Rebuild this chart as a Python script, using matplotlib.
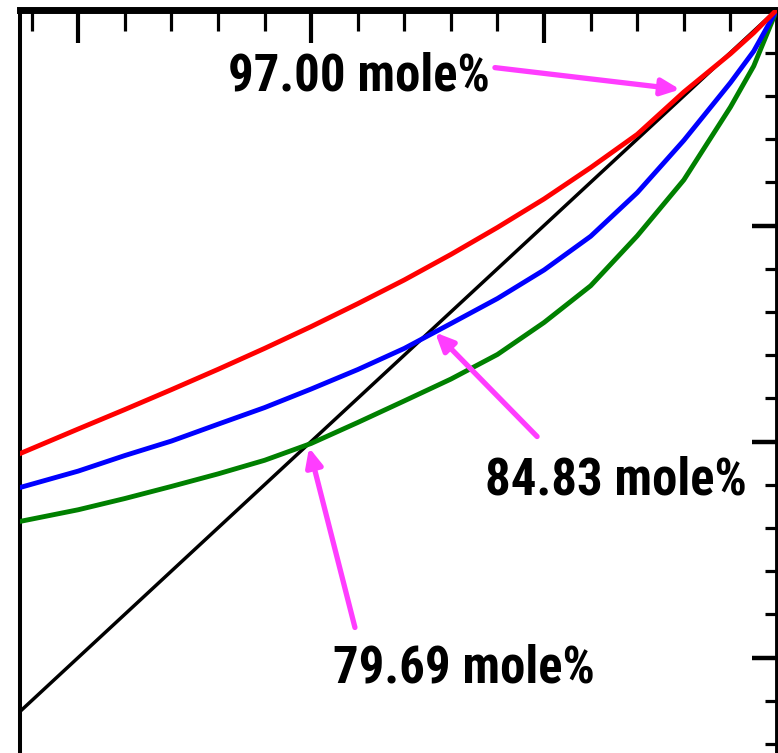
import matplotlib
matplotlib.use("Agg")
import matplotlib.pyplot as plt
from matplotlib import font_manager

# ---- data (mole fraction) ----
x_grid = [0.675, 0.70, 0.72, 0.74, 0.76, 0.78, 0.80, 0.82, 0.84, 0.86,
          0.88, 0.90, 0.92, 0.94, 0.96, 0.98, 0.99, 1.00]
y_red = [0.7944, 0.8058, 0.8148, 0.8240, 0.8334, 0.8431, 0.8532, 0.8638,
         0.8748, 0.8866, 0.8991, 0.9123, 0.9268, 0.9422, 0.9618, 0.9795,
         0.9892, 1.0]
y_blue = [0.7787, 0.7863, 0.7935, 0.8002, 0.8080, 0.8157, 0.8243, 0.8333,
          0.8431, 0.8546, 0.8662, 0.8794, 0.8950, 0.9152, 0.9394, 0.9661,
          0.9807, 1.0]
y_green = [0.7630, 0.7684, 0.7736, 0.7792, 0.7850, 0.7913, 0.7991, 0.8088,
           0.8188, 0.8289, 0.8403, 0.8551, 0.8721, 0.8952, 0.9211, 0.9548,
           0.9738, 1.0]
x_diag = [0.675, 1.0]
y_diag = [0.675, 1.0]

labels = ["97.00 mole%", "84.83 mole%", "79.69 mole%"]
label_xy = [(0.7643, 0.9625), (0.8746, 0.7755), (0.8094, 0.6885)]
arrow_tips = [(0.9584, 0.9630), (0.8532, 0.8505), (0.7991, 0.7972)]
arrow_tails = [(0.8789, 0.9731), (0.8970, 0.8023), (0.8188, 0.7139)]

# ---- fonts ----
names = {f.name for f in font_manager.fontManager.ttflist}
fam = None
for cand in ["Roboto Condensed", "Archivo Narrow", "PT Sans Narrow", "Liberation Sans Narrow"]:
    if cand in names:
        fam = cand
        break
txt_font = dict(family=[fam, "DejaVu Sans"] if fam else ["DejaVu Sans"], weight=600)

W, H = 778, 753
fig = plt.figure(figsize=(W / 100, H / 100), dpi=100)

xlim = (0.675, 1.0)
ylim = (0.64, 1.0)
left_px, right_px, top_px = 20, 777, 9.5
py_per_unit = 2160.0
height_px = (ylim[1] - ylim[0]) * py_per_unit
ax = fig.add_axes([left_px / W, 1 - (top_px + height_px) / H,
                   (right_px - left_px) / W, height_px / H])
ax.set_xlim(*xlim)
ax.set_ylim(*ylim)

ax.plot(x_diag, y_diag, color="black", lw=2.5, zorder=3)
ax.plot(x_grid, y_green, color="#008000", lw=3.5, zorder=4)
ax.plot(x_grid, y_blue, color="#0000ff", lw=3.5, zorder=4)
ax.plot(x_grid, y_red, color="#ff0000", lw=3.5, zorder=5)

mag = "#ff3dff"
for tip, tail in zip(arrow_tips, arrow_tails):
    ax.annotate("", xy=tip, xytext=tail, xycoords="data", textcoords="data",
                arrowprops=dict(arrowstyle="-|>,head_length=1.1,head_width=0.5",
                                color=mag, lw=3.8, shrinkA=0, shrinkB=0),
                zorder=6)
for s, (tx, ty) in zip(labels, label_xy):
    ax.text(tx, ty, s, fontsize=36.5, ha="left", va="baseline", color="black",
            zorder=7, **txt_font)

# spines
ax.spines["bottom"].set_visible(False)
ax.spines["top"].set_linewidth(5)
ax.spines["left"].set_linewidth(2.9)
ax.spines["right"].set_linewidth(3.5)

# ticks
ax.set_xticks([0.7, 0.8, 0.9])
ax.set_xticks([0.68 + 0.02 * i for i in range(16)], minor=True)
ax.set_yticks([0.7, 0.8, 0.9, 1.0])
ax.set_yticks([0.64 + 0.02 * i for i in range(19)], minor=True)
ax.tick_params(axis="x", which="both", direction="in", top=True, bottom=False,
               labeltop=False, labelbottom=False)
ax.tick_params(axis="x", which="major", length=24, width=3.0)
ax.tick_params(axis="x", which="minor", length=15, width=2.3)
ax.tick_params(axis="y", which="both", direction="in", right=True, left=False,
               labelright=False, labelleft=False)
ax.tick_params(axis="y", which="major", length=18, width=3.2)
ax.tick_params(axis="y", which="minor", length=8.5, width=2.3)

fig.savefig("out.png", dpi=100)
